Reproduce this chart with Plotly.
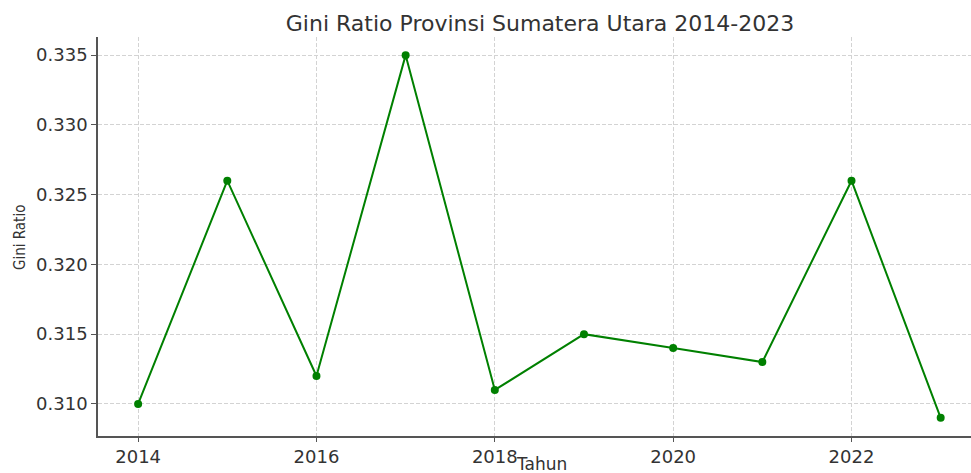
import plotly.graph_objects as go

years = [2014, 2015, 2016, 2017, 2018, 2019, 2020, 2021, 2022, 2023]
gini = [0.310, 0.326, 0.312, 0.335, 0.311, 0.315, 0.314, 0.313, 0.326, 0.309]
x_ticks = [2014, 2016, 2018, 2020, 2022]
y_ticks = [0.310, 0.315, 0.320, 0.325, 0.330, 0.335]

W, H = 971, 473
# plot box in pixels
L, R, T, B = 98, 971, 37, 436
pw, ph = R - L, B - T

fig = go.Figure()
fig.add_trace(go.Scatter(
    x=years, y=gini, mode="lines+markers",
    line=dict(color="#008000", width=2),
    marker=dict(color="#008000", size=8),
))

fig.update_layout(
    width=W, height=H,
    margin=dict(l=L, r=W - R, t=T, b=H - B),
    paper_bgcolor="white", plot_bgcolor="white",
    showlegend=False,
    font=dict(family="DejaVu Sans", color="#333333"),
    title=dict(text="Gini Ratio Provinsi Sumatera Utara 2014-2023",
               x=540 / W, xref="container", xanchor="center",
               y=1 - 23 / H, yanchor="middle", yref="container",
               font=dict(family="DejaVu Sans", size=22, color="#333333")),
    annotations=[
        dict(text="Tahun", x=(541 - L) / pw, y=0,
             xref="paper", yref="paper",
             showarrow=False, xanchor="center", yanchor="middle",
             yshift=-(464 - B),
             font=dict(family="DejaVu Sans", size=17, color="#333333")),
        dict(text="Gini Ratio", x=0, xshift=-(L - 20), y=(B - 238) / ph,
             xref="paper", yref="paper",
             showarrow=False, xanchor="center", yanchor="middle", textangle=-90,
             font=dict(family="DejaVu Sans Condensed, DejaVu Sans", size=15, color="#333333")),
    ],
)

fig.update_xaxes(
    range=[2013.55, 2023.34], tickvals=x_ticks, ticktext=[str(t) for t in x_ticks],
    showgrid=True, gridcolor="#d3d3d3", griddash="4px,2px", gridwidth=0.8,
    showline=True, linecolor="#555555", linewidth=1.5,
    ticks="outside", ticklen=4, tickcolor="#555555",
    tickfont=dict(size=18, color="#333333"),
    zeroline=False, automargin=False,
)
fig.update_yaxes(
    range=[0.3077, 0.3363], tickvals=y_ticks, ticktext=[f"{t:.3f}" for t in y_ticks],
    showgrid=True, gridcolor="#d3d3d3", griddash="4px,2px", gridwidth=0.8,
    showline=True, linecolor="#555555", linewidth=1.5,
    ticks="outside", ticklen=5, tickcolor="#555555",
    tickfont=dict(size=18, color="#333333"),
    zeroline=False, automargin=False,
)

fig.write_html("out.html", config={"displayModeBar": False},
               post_script="document.body.style.margin='0';document.body.style.overflow='hidden';")
